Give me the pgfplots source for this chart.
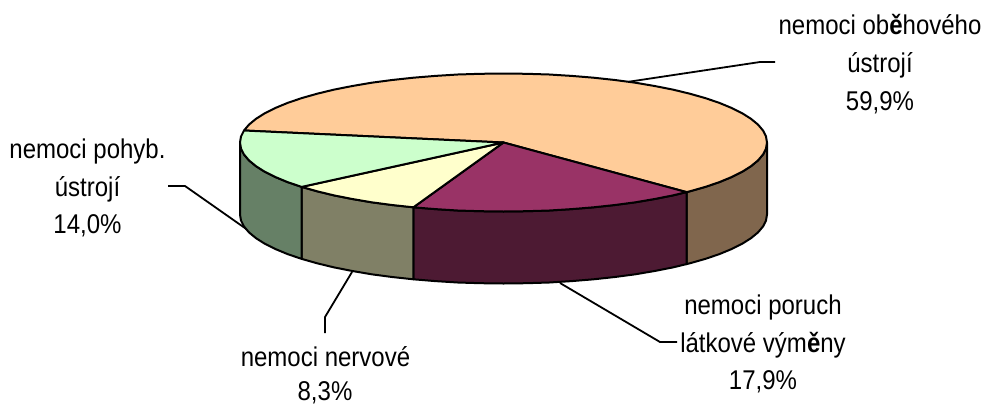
\documentclass[border=0pt]{standalone}
\usepackage{pgfplots}
\pgfplotsset{compat=1.18}
\usepackage{graphicx}
\usepackage{fontspec}
\setmainfont{Liberation Sans}
\definecolor{peach}{HTML}{FFCC99}
\definecolor{plum}{HTML}{993366}
\definecolor{paley}{HTML}{FFFFCC}
\definecolor{paleg}{HTML}{CCFFCC}
\definecolor{dpeach}{HTML}{80664D}
\definecolor{dplum}{HTML}{4D1A33}
\definecolor{dpaley}{HTML}{808066}
\definecolor{dpaleg}{HTML}{668066}
\newcommand{\lab}[3]{\node[anchor=base,inner sep=0pt,font=\fontsize{24}{24}\selectfont] at (axis cs:#1,#2) {\scalebox{1}[1.13]{#3}};}
\begin{document}
\begin{tikzpicture}
\begin{axis}[
  scale only axis, width=985pt, height=405pt,
  xmin=0, xmax=985, ymin=0, ymax=405, y dir=reverse,
  hide axis, clip=false, no markers,
  every axis plot/.append style={line width=2pt, draw=black, line join=round},
]
\path (axis cs:0,0) rectangle (axis cs:985,405);
% leader lines
\addplot[line width=1.8pt] coordinates {(627,82) (760,62) (775,62)};
\addplot[line width=1.8pt] coordinates {(560,283) (660,342) (677,342)};
\addplot[line width=1.8pt] coordinates {(352,272) (325,317) (325,333)};
\addplot[line width=1.8pt] coordinates {(252,233) (185,186) (168,186)};
% sides
\addplot[fill=dpeach] coordinates {(767,142.5)(766,148.5)(763,154.5)(758,160.4)(751.1,166.1)(742.3,171.7)(731.7,177)(719.4,182.1)(705.3,186.9)(689.8,191.3)(686.5,192.1)
 (686.5,264.1)(689.8,263.3)(705.3,258.9)(719.4,254.1)(731.7,249)(742.3,243.7)(751.1,238.1)(758,232.4)(763,226.5)(766,220.5)(767,214.5)} --cycle;
\addplot[fill=dplum] coordinates {(686.5,192.1)(672.9,195.4)(654.6,199)(635.3,202.3)(614.9,205)(593.6,207.3)(571.7,209.1)(549.2,210.5)(526.5,211.2)(503.5,211.5)(480.5,211.2)(457.8,210.5)(435.3,209.1)(413.4,207.3)
 (413.4,279.3)(435.3,281.1)(457.8,282.5)(480.5,283.2)(503.5,283.5)(526.5,283.2)(549.2,282.5)(571.7,281.1)(593.6,279.3)(614.9,277)(635.3,274.3)(654.6,271)(672.9,267.4)(686.5,264.1)} --cycle;
\addplot[fill=dpaley] coordinates {(413.4,207.3)(392.1,205)(371.7,202.3)(352.4,199)(334.1,195.4)(317.2,191.3)(301.7,186.9)
 (301.7,258.9)(317.2,263.3)(334.1,267.4)(352.4,271)(371.7,274.3)(392.1,277)(413.4,279.3)} --cycle;
\addplot[fill=dpaleg] coordinates {(301.7,186.9)(287.6,182.1)(275.3,177)(264.7,171.7)(255.9,166.1)(249,160.4)(244,154.5)(241,148.5)(240,142.5)
 (240,214.5)(241,220.5)(244,226.5)(249,232.4)(255.9,238.1)(264.7,243.7)(275.3,249)(287.6,254.1)(301.7,258.9)} --cycle;
% top
\addplot[fill=peach] coordinates {(503.5,142.5)(244,130.5)(249,124.6)(255.9,118.9)(264.7,113.3)(275.3,108)(287.6,102.9)(301.7,98.1)(317.2,93.7)(334.1,89.6)(352.4,86)(371.7,82.7)(392.1,80)(413.4,77.7)(435.3,75.9)(457.8,74.5)(480.5,73.8)(503.5,73.5)(526.5,73.8)(549.2,74.5)(571.7,75.9)(593.6,77.7)(614.9,80)(635.3,82.7)(654.6,86)(672.9,89.6)(689.8,93.7)(705.3,98.1)(719.4,102.9)(731.7,108)(742.3,113.3)(751.1,118.9)(758,124.6)(763,130.5)(766,136.5)(767,142.5)(766,148.5)(763,154.5)(758,160.4)(751.1,166.1)(742.3,171.7)(731.7,177)(719.4,182.1)(705.3,186.9)(689.8,191.3)(686.5,192.1)} --cycle;
\addplot[fill=plum] coordinates {(503.5,142.5)(686.5,192.1)(672.9,195.4)(654.6,199)(635.3,202.3)(614.9,205)(593.6,207.3)(571.7,209.1)(549.2,210.5)(526.5,211.2)(503.5,211.5)(480.5,211.2)(457.8,210.5)(435.3,209.1)(413.4,207.3)} --cycle;
\addplot[fill=paley] coordinates {(503.5,142.5)(413.4,207.3)(392.1,205)(371.7,202.3)(352.4,199)(334.1,195.4)(317.2,191.3)(301.7,186.9)} --cycle;
\addplot[fill=paleg] coordinates {(503.5,142.5)(301.7,186.9)(287.6,182.1)(275.3,177)(264.7,171.7)(255.9,166.1)(249,160.4)(244,154.5)(241,148.5)(240,142.5)(241,136.5)(244,130.5)} --cycle;
% labels
\lab{880}{34}{nemoci ob\textbf{ě}hového}
\lab{880}{72}{ústrojí}
\lab{880}{110}{59,9\%}
\lab{87.5}{158}{nemoci pohyb.}
\lab{87.5}{196}{ústrojí}
\lab{87.5}{233}{14,0\%}
\lab{763}{314}{nemoci poruch}
\lab{763}{352}{látkové vým\textbf{ě}ny}
\lab{763}{389}{17,9\%}
\lab{325.5}{366}{nemoci nervové}
\lab{325}{400}{8,3\%}
\end{axis}
\end{tikzpicture}
\end{document}
